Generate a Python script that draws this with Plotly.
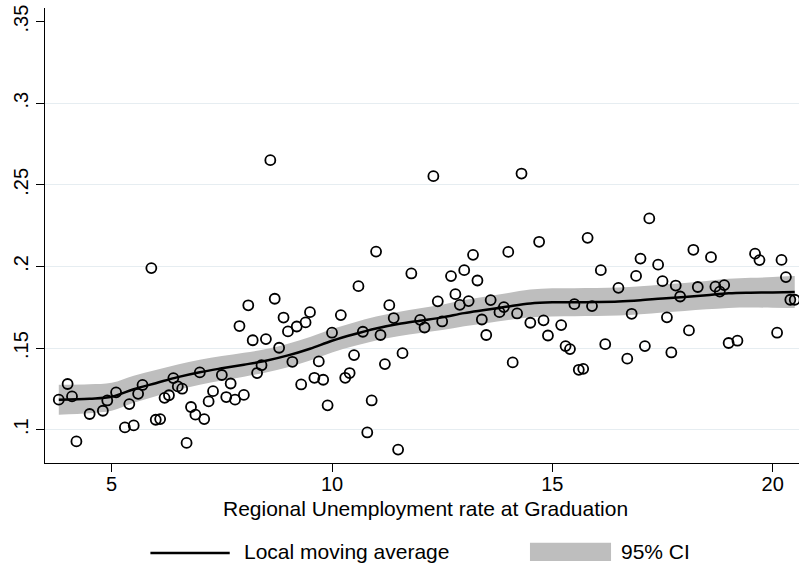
import plotly.graph_objects as go

# Regional unemployment rate at graduation (x) and outcome share (y)
unemp_rate = [3.8, 4.0, 4.1, 4.2, 4.5, 4.8, 4.9, 5.1, 5.3, 5.4, 5.5, 5.6, 5.7, 5.9, 6.0, 6.1,
              6.2, 6.3, 6.4, 6.5, 6.6, 6.7, 6.8, 6.9, 7.0, 7.1, 7.2, 7.3, 7.5, 7.6, 7.7, 7.8,
              7.9, 8.0, 8.1, 8.2, 8.3, 8.4, 8.5, 8.6, 8.7, 8.8, 8.9, 9.0, 9.1, 9.2, 9.3, 9.4,
              9.5, 9.6, 9.7, 9.8, 9.9, 10.0, 10.2, 10.3, 10.4, 10.5, 10.6, 10.7, 10.8, 10.9,
              11.0, 11.1, 11.2, 11.3, 11.4, 11.5, 11.6, 11.8, 12.0, 12.1, 12.3, 12.4, 12.5,
              12.7, 12.8, 12.9, 13.0, 13.1, 13.2, 13.3, 13.4, 13.5, 13.6, 13.8, 13.9, 14.0,
              14.1, 14.2, 14.3, 14.5, 14.7, 14.8, 14.9, 15.2, 15.3, 15.4, 15.5, 15.6, 15.7,
              15.8, 15.9, 16.1, 16.2, 16.5, 16.7, 16.8, 16.9, 17.0, 17.1, 17.2, 17.4, 17.5,
              17.6, 17.7, 17.8, 17.9, 18.1, 18.2, 18.3, 18.6, 18.7, 18.8, 18.9, 19.0, 19.2,
              19.6, 19.7, 20.1, 20.2, 20.3, 20.4, 20.5]

outcome = [0.1184, 0.1280, 0.1204, 0.0928, 0.1096, 0.1116, 0.1179, 0.1229, 0.1014, 0.1157,
           0.1026, 0.1220, 0.1274, 0.1990, 0.1061, 0.1065, 0.1195, 0.1211, 0.1316, 0.1265,
           0.1251, 0.0919, 0.1139, 0.1092, 0.1351, 0.1065, 0.1173, 0.1236, 0.1335, 0.1200,
           0.1283, 0.1184, 0.1635, 0.1213, 0.1762, 0.1548, 0.1347, 0.1395, 0.1555, 0.2651,
           0.1802, 0.1502, 0.1687, 0.1602, 0.1416, 0.1632, 0.1277, 0.1657, 0.1720, 0.1318,
           0.1418, 0.1306, 0.1149, 0.1594, 0.1702, 0.1318, 0.1347, 0.1457, 0.1879, 0.1600,
           0.0983, 0.1179, 0.2091, 0.1580, 0.1402, 0.1763, 0.1684, 0.0878, 0.1469, 0.1957,
           0.1673, 0.1626, 0.2553, 0.1786, 0.1663, 0.1941, 0.1830, 0.1765, 0.1977, 0.1788,
           0.2071, 0.1914, 0.1675, 0.1580, 0.1794, 0.1720, 0.1751, 0.2089, 0.1412, 0.1712,
           0.2569, 0.1655, 0.2151, 0.1670, 0.1577, 0.1641, 0.1512, 0.1494, 0.1769, 0.1367,
           0.1373, 0.2175, 0.1757, 0.1977, 0.1524, 0.1869, 0.1435, 0.1710, 0.1942, 0.2048,
           0.1512, 0.2294, 0.2011, 0.1910, 0.1688, 0.1473, 0.1883, 0.1816, 0.1608, 0.2102,
           0.1874, 0.2057, 0.1876, 0.1846, 0.1886, 0.1531, 0.1545, 0.2078, 0.2039, 0.1594,
           0.2040, 0.1935, 0.1796, 0.1796]

# Local moving average with its 95% confidence band
fit_x = [3.8, 4.5, 5.0, 5.5, 6.0, 6.5, 7.0, 7.5, 8.0, 8.5, 9.0, 9.5, 10.0, 10.5, 11.0,
         11.5, 12.0, 12.5, 13.0, 13.5, 14.0, 14.5, 15.0, 15.5, 16.0, 16.5, 17.0, 17.5,
         18.0, 18.5, 19.0, 19.5, 20.0, 20.5]
fit_y = [0.1184, 0.1190, 0.1202, 0.1248, 0.1285, 0.1322, 0.1352, 0.1376, 0.1398, 0.1422,
         0.1455, 0.1496, 0.1545, 0.1585, 0.1620, 0.1647, 0.1668, 0.1688, 0.1714, 0.1734,
         0.1755, 0.1773, 0.1780, 0.1781, 0.1782, 0.1785, 0.1793, 0.1804, 0.1813, 0.1824,
         0.1835, 0.1839, 0.1841, 0.1843]
ci_lo = [0.1092, 0.1101, 0.1116, 0.1165, 0.1205, 0.1244, 0.1276, 0.1301, 0.1325, 0.1350,
         0.1383, 0.1424, 0.1473, 0.1513, 0.1547, 0.1573, 0.1592, 0.1610, 0.1634, 0.1652,
         0.1672, 0.1688, 0.1694, 0.1695, 0.1696, 0.1699, 0.1707, 0.1718, 0.1727, 0.1737,
         0.1746, 0.1748, 0.1747, 0.1745]
ci_hi = [0.1276, 0.1279, 0.1288, 0.1331, 0.1365, 0.1400, 0.1428, 0.1451, 0.1471, 0.1494,
         0.1527, 0.1568, 0.1617, 0.1657, 0.1693, 0.1721, 0.1744, 0.1766, 0.1794, 0.1816,
         0.1838, 0.1858, 0.1866, 0.1867, 0.1868, 0.1871, 0.1879, 0.1890, 0.1899, 0.1911,
         0.1924, 0.1930, 0.1935, 0.1941]

x_ticks = [5, 10, 15, 20]
y_ticks = [0.10, 0.15, 0.20, 0.25, 0.30, 0.35]
y_tick_text = [".1", ".15", ".2", ".25", ".3", ".35"]
y_grid = [0.10, 0.15, 0.20, 0.25, 0.30]

FONT = "Liberation Sans, Arial, Helvetica, sans-serif"
BAND = "#bebebe"

fig = go.Figure()

# confidence band
fig.add_trace(go.Scatter(x=fit_x, y=ci_hi, mode="lines", line=dict(width=0, shape="spline"),
                         hoverinfo="skip", showlegend=False))
fig.add_trace(go.Scatter(x=fit_x, y=ci_lo, mode="lines", line=dict(width=0, shape="spline"),
                         fill="tonexty", fillcolor=BAND, hoverinfo="skip", showlegend=False))

# observations
fig.add_trace(go.Scatter(x=unemp_rate, y=outcome, mode="markers",
                         marker=dict(symbol="circle-open", size=10, color="black",
                                     line=dict(width=1.8, color="black")),
                         showlegend=False))

# moving average
fig.add_trace(go.Scatter(x=fit_x, y=fit_y, mode="lines",
                         line=dict(color="black", width=2.5, shape="spline"),
                         showlegend=False))

# overlay axis carrying the horizontal gridlines only
fig.add_trace(go.Scatter(x=[fit_x[0]], y=[fit_y[0]], yaxis="y2", mode="markers",
                         marker=dict(opacity=0), hoverinfo="skip", showlegend=False))

x_range = [3.487, 20.597]
y_range = [0.0796, 0.3583]

fig.update_layout(
    width=799, height=565,
    margin=dict(l=45, r=0, t=8, b=102),
    paper_bgcolor="white", plot_bgcolor="white",
    font=dict(family=FONT, size=20, color="black"),
    xaxis=dict(range=x_range, tickvals=x_ticks, ticks="outside", ticklen=8,
               tickwidth=1, tickcolor="black", showline=True, linecolor="black",
               linewidth=1, showgrid=False, zeroline=False,
               tickfont=dict(size=20), ticklabelstandoff=-5),
    yaxis=dict(range=y_range, tickvals=y_ticks, ticktext=y_tick_text, tickangle=-90,
               ticks="outside", ticklen=8, tickwidth=1, tickcolor="black",
               showline=True, linecolor="black", linewidth=1, showgrid=False,
               zeroline=False, tickfont=dict(size=20), ticklabelstandoff=0),
    yaxis2=dict(range=y_range, overlaying="y", tickvals=y_grid, showticklabels=False,
                ticks="", showgrid=True, gridcolor="#e6edf1", gridwidth=1,
                showline=False, zeroline=False),
    showlegend=False,
)

# axis title
fig.add_annotation(text="Regional Unemployment rate at Graduation", xref="paper", yref="paper",
                   x=0.5053, y=-0.101, xanchor="center", yanchor="middle",
                   showarrow=False, font=dict(size=21))

# legend keys
fig.add_shape(type="line", xref="paper", yref="paper", x0=0.1398, x1=0.2450,
              y0=-0.1978, y1=-0.1978, line=dict(color="black", width=2.5))
fig.add_annotation(text="Local moving average", xref="paper", yref="paper",
                   x=0.2613, y=-0.1950, xanchor="left", yanchor="middle",
                   showarrow=False, font=dict(size=21))
fig.add_shape(type="rect", xref="paper", yref="paper", x0=0.6432, x1=0.7507,
              y0=-0.1752, y1=-0.2154, line=dict(width=0), fillcolor=BAND)
fig.add_annotation(text="95% CI", xref="paper", yref="paper",
                   x=0.7613, y=-0.1950, xanchor="left", yanchor="middle",
                   showarrow=False, font=dict(size=21))

fig.write_html("out.html")
